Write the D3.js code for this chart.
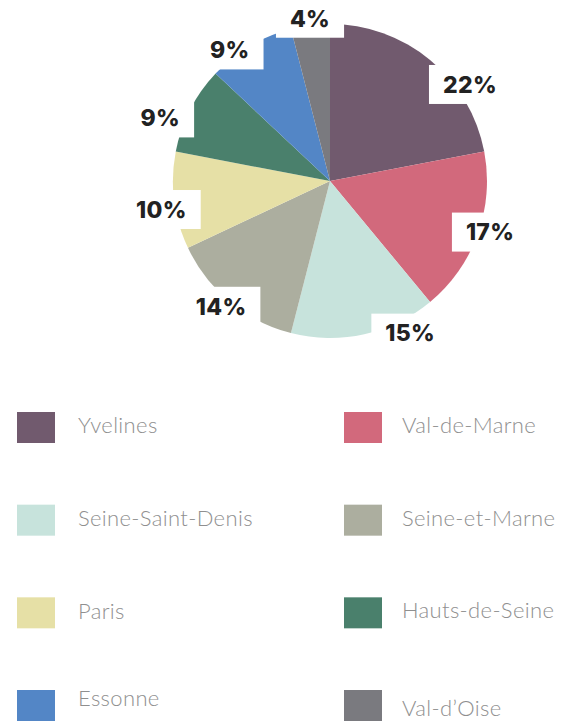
<!DOCTYPE html>
<html>
<head>
<meta charset="utf-8">
<script src="https://cdn.jsdelivr.net/npm/d3@7"></script>
<style>
  body { margin: 0; background: #fff; }
  svg { display: block; }
</style>
</head>
<body>
<svg id="drawing_region"></svg>
<script>
// data
var departements = ["Yvelines", "Val-de-Marne", "Seine-Saint-Denis", "Seine-et-Marne",
                    "Paris", "Hauts-de-Seine", "Essonne", "Val-d\u2019Oise"];
var parts = [22, 17, 15, 14, 10, 9, 9, 4];
var colors = ["#715a6e", "#d2697c", "#c7e3dc", "#acae9f",
              "#e6e0a6", "#4a806c", "#5386c6", "#7a7a7f"];

// label placement tweaks (degrees off the slice middle, distance from centre)
var label_shift = [15.8, -2.1, -15.2, 1.4, -2.4, -6.6, -6.8, 0.2];
var label_dist = [170, 168, 172, 166, 171, 181, 165, 164];
// legend text baseline tweaks
var legend_dy = [0, 0, 0, 0, 1, 0, -5, 5];

var config = {
    width: 563,
    height: 722,
    cx: 330,
    cy: 181,
    radius: 157
};

var data = departements.map((d, i) => ({ label: d, value: parts[i], color: colors[i] }));

var svg = d3.select('#drawing_region')
    .attr('width', config.width)
    .attr('height', config.height);

var pie = d3.pie()
    .value(d => d.value)
    .sort(null);

var arc = d3.arc()
    .innerRadius(0)
    .outerRadius(config.radius);

var chart = svg.append('g')
    .attr('transform', `translate(${config.cx}, ${config.cy})`);

var arcs = pie(data);

chart.selectAll('path')
    .data(arcs)
    .join('path')
    .attr('d', arc)
    .attr('fill', d => d.data.color);

// labels with white boxes
var labels = chart.selectAll('g.label')
    .data(arcs)
    .join('g')
    .attr('class', 'label')
    .attr('transform', (d, i) => {
        var a = (d.startAngle + d.endAngle) / 2 + label_shift[i] * Math.PI / 180;
        var r = label_dist[i];
        return `translate(${r * Math.sin(a)}, ${-r * Math.cos(a)})`;
    });

labels.append('rect')
    .attr('fill', '#fff');

labels.append('text')
    .attr('text-anchor', 'middle')
    .attr('dy', '0.36em')
    .style('font-family', 'Inter, "Noto Sans", sans-serif')
    .style('font-weight', 800)
    .style('font-size', '23px')
    .style('letter-spacing', '0.3px')
    .attr('fill', '#222')
    .text(d => d.data.value + '%');

labels.each(function() {
    var g = d3.select(this);
    var w = g.select('text').node().getComputedTextLength();
    g.select('rect')
        .attr('x', -w / 2 - 14)
        .attr('y', -19.5)
        .attr('width', w + 28)
        .attr('height', 39);
});

// legend
var legend = svg.append('g');
var col_x = [17, 344];
var row_y = d3.scaleLinear().domain([0, 3]).range([412, 690]);

var items = legend.selectAll('g')
    .data(data)
    .join('g')
    .attr('transform', (d, i) => `translate(${col_x[i % 2]}, ${row_y(Math.floor(i / 2))})`);

items.append('rect')
    .attr('width', 38)
    .attr('height', 31)
    .attr('fill', d => d.color);

items.append('text')
    .attr('x', (d, i) => i % 2 === 0 ? 61 : 58)
    .attr('y', (d, i) => 21 + legend_dy[i])
    .style('font-family', 'Lato, sans-serif')
    .style('font-weight', 300)
    .style('font-size', '22px')
    .style('letter-spacing', '0.35px')
    .attr('fill', '#8f8f8f')
    .text(d => d.label);
</script>
</body>
</html>
